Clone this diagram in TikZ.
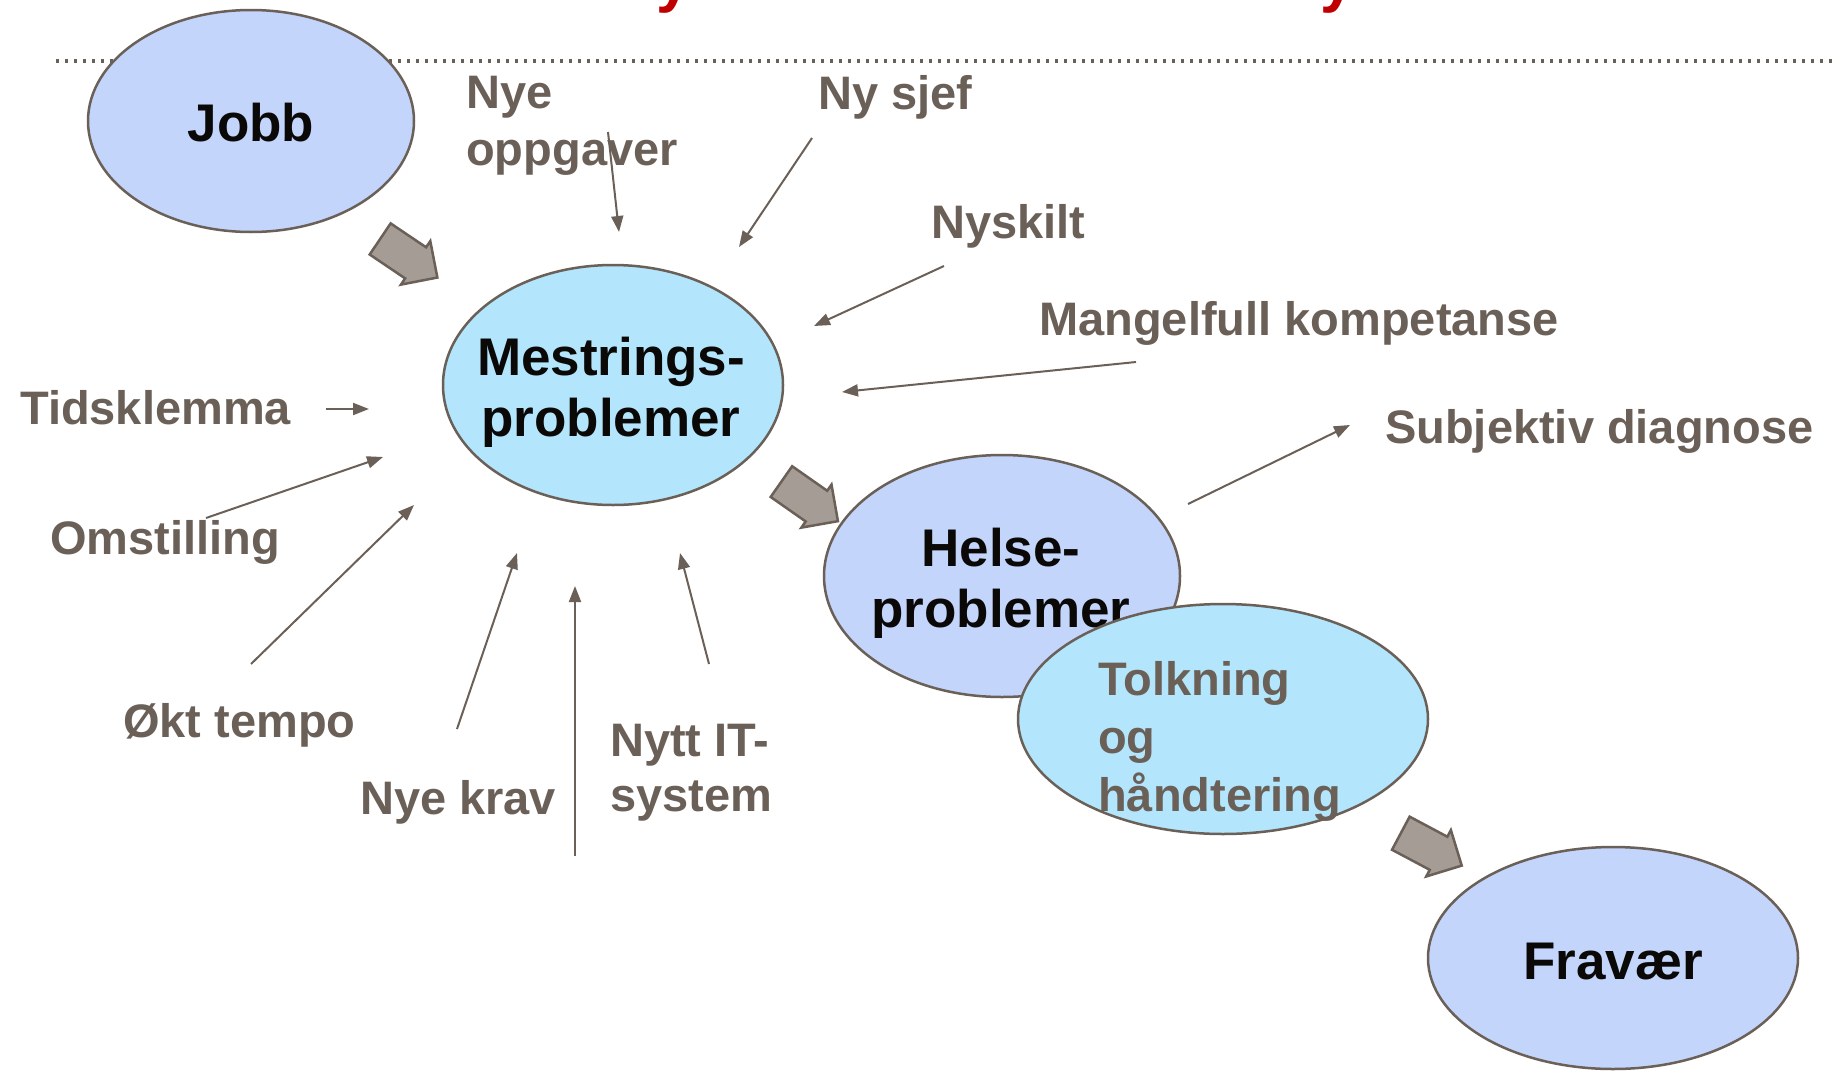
\documentclass[tikz,border=0pt]{standalone}
\usepackage{fontspec}
\setmainfont{Liberation Sans}
\usetikzlibrary{arrows.meta,shapes.geometric,shapes.arrows}
\definecolor{ink}{HTML}{0B0907}
\definecolor{muted}{HTML}{6A6058}
\definecolor{flow}{HTML}{A59C95}
\definecolor{work}{HTML}{C4D5FC}
\definecolor{cope}{HTML}{B3E6FC}
\definecolor{heading}{HTML}{C00000}

\begin{document}
\begin{tikzpicture}[
    x=1pt,
    y=-1pt,
    text=muted,
    arrow/.style={-{Triangle[length=16pt,width=12pt]}, draw=muted, line width=2pt},
    blob/.style={ellipse, draw=muted, line width=2.5pt, inner sep=0pt},
    blobtext/.style={anchor=base, inner sep=0pt, align=center, text=ink,
        font=\fontsize{53}{61}\selectfont\bfseries},
    cause/.style={anchor=base west, inner sep=0pt, align=left,
        font=\fontsize{47}{57}\selectfont\bfseries},
    push/.style={single arrow, draw=muted, fill=flow, line width=2.5pt,
        minimum height=69pt, inner xsep=0pt, inner ysep=17.5pt,
        single arrow head extend=7.5pt}
]
\useasboundingbox (0,0) rectangle (1837,1071);

% Bottom of the slide title, cut off by the frame.
\begin{scope}
    \clip (0,0) rectangle (1837,1071);
    \node[anchor=base west, inner sep=0pt, text=heading,
        font=\fontsize{62}{62}\selectfont\bfseries] (title1) at (656,0) {y};
    \node[anchor=base west, inner sep=0pt, text=heading,
        font=\fontsize{62}{62}\selectfont\bfseries] (title2) at (1320,0) {y};
\end{scope}

\draw[muted, line width=4pt, dash pattern=on 2.5pt off 6.5pt] (56,61) -- (1837,61);

% The chain of states.
\node[blob, fill=work, minimum width=326pt, minimum height=222pt] (jobb) at (251,121) {};
\node[blobtext] (jobbtext) at (251,141) {Jobb};

\node[blob, fill=cope, minimum width=340pt, minimum height=240pt] (mestring) at (613,385) {};
\node[blobtext] (mestringtext) at (611,436) {Mestrings-\\problemer};

\node[blob, fill=work, minimum width=356pt, minimum height=242pt] (helse) at (1002,576) {};
\node[blobtext] (helsetext) at (1001,627) {Helse-\\problemer};

\node[blob, fill=cope, minimum width=410pt, minimum height=230pt] (tolkning) at (1223,719) {};
\node[cause, font=\fontsize{47}{58}\selectfont\bfseries] (tolkningtext) at (1098,811)
    {Tolkning\\og\\håndtering};

\node[blob, fill=work, minimum width=370pt, minimum height=222pt] (fravaer) at (1613,958) {};
\node[blobtext] (fravaertext) at (1613,979) {Fravær};

\node[push, rotate=-34] (push1) at (401,253) {};
\node[push, rotate=-35] (push2) at (802,496) {};
\node[push, rotate=-28] (push3) at (1423,845) {};

% Strains acting on coping.
\node[cause] (oppgaver) at (466,165) {Nye\\oppgaver};
\node[cause] (sjef) at (818,109) {Ny sjef};
\node[cause] (nyskilt) at (931,238) {Nyskilt};
\node[cause] (kompetanse) at (1039,335) {Mangelfull kompetanse};
\node[cause] (diagnose) at (1385,443) {Subjektiv diagnose};
\node[cause] (tidsklemma) at (20,424) {Tidsklemma};
\node[cause] (omstilling) at (50,554) {Omstilling};
\node[cause] (tempo) at (123,737) {Økt tempo};
\node[cause] (krav) at (360,814) {Nye krav};
\node[cause, font=\fontsize{47}{55}\selectfont\bfseries] (itsystem) at (610,811) {Nytt IT-\\system};

\coordinate (oppgaver-from) at (608,132);   \coordinate (oppgaver-to) at (619,232);
\coordinate (sjef-from) at (812,138);       \coordinate (sjef-to) at (739,247);
\coordinate (nyskilt-from) at (944,266);    \coordinate (nyskilt-to) at (814,326);
\coordinate (kompetanse-from) at (1136,362); \coordinate (kompetanse-to) at (842,392);
\coordinate (diagnose-from) at (1188,504);  \coordinate (diagnose-to) at (1350,425);
\coordinate (tidsklemma-from) at (326,409); \coordinate (tidsklemma-to) at (369,409);
\coordinate (omstilling-from) at (206,518); \coordinate (omstilling-to) at (383,457);
\coordinate (tempo-from) at (251,664);      \coordinate (tempo-to) at (414,505);
\coordinate (krav-from) at (457,729);       \coordinate (krav-to) at (517,553);
\coordinate (bunn-from) at (575,856);       \coordinate (bunn-to) at (575,586);
\coordinate (itsystem-from) at (709,664);   \coordinate (itsystem-to) at (680,553);

\foreach \cause in {oppgaver,sjef,nyskilt,kompetanse,diagnose,tidsklemma,
                    omstilling,tempo,krav,bunn,itsystem}
    \draw[arrow] (\cause-from) -- (\cause-to);

\end{tikzpicture}
\end{document}
